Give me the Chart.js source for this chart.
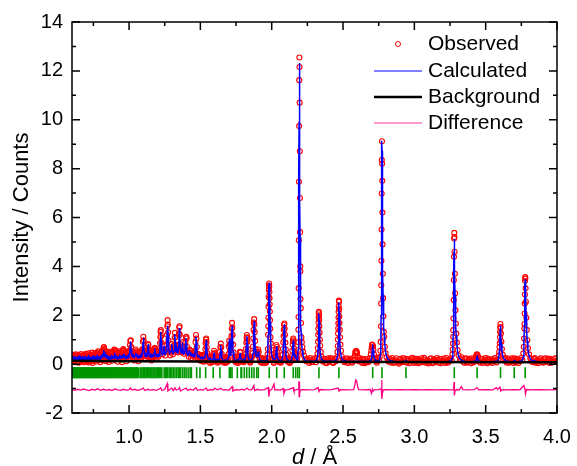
<!DOCTYPE html>
<html>
<head>
<meta charset="utf-8">
<script src="https://cdn.jsdelivr.net/npm/chart.js@4.4.1/dist/chart.umd.min.js"></script>
<style>
  body { margin: 0; background: #fff; }
  #wrap { width: 577px; height: 466px; }
</style>
</head>
<body>
<div id="wrap"><canvas id="rietveld" width="577" height="466"></canvas></div>
<script>
// axis ticks
var xTicks = [1.0, 1.5, 2.0, 2.5, 3.0, 3.5, 4.0];
var xMinorTicks = [0.75, 1.25, 1.75, 2.25, 2.75, 3.25, 3.75];
var yTicks = [-2, 0, 2, 4, 6, 8, 10, 12, 14];
var yMinorTicks = [-1, 1, 3, 5, 7, 9, 11, 13];
var seriesNames = ['Observed', 'Calculated', 'Background', 'Difference'];

// observed points [d, intensity]
var observed = [
  [0.600,0.25],[0.606,0.12],[0.612,0.31],[0.618,0.08],[0.624,0.22],[0.630,0.35],[0.636,0.14],[0.642,0.28],[0.648,0.06],[0.654,0.33],
  [0.660,0.18],[0.666,0.27],[0.672,0.10],[0.678,0.36],[0.684,0.20],[0.690,0.09],[0.696,0.30],[0.702,0.16],[0.708,0.34],[0.714,0.07],
  [0.720,0.29],[0.726,0.38],[0.732,0.13],[0.738,0.25],[0.744,0.05],[0.750,0.32],[0.756,0.19],[0.762,0.37],[0.768,0.11],[0.774,0.28],
  [0.780,0.40],[0.786,0.15],[0.792,0.33],[0.798,0.08],
  [0.804,0.30],[0.810,0.42],[0.816,0.15],[0.820,0.58],[0.824,0.70],[0.828,0.52],[0.834,0.36],[0.840,0.12],[0.846,0.40],[0.852,0.25],
  [0.858,0.09],[0.864,0.35],[0.870,0.20],[0.876,0.42],[0.882,0.14],[0.888,0.30],[0.894,0.38],[0.898,0.55],[0.902,0.58],[0.908,0.22],
  [0.914,0.36],[0.920,0.10],[0.926,0.33],[0.932,0.45],[0.938,0.18],[0.944,0.30],[0.950,0.08],[0.956,0.48],[0.960,0.62],[0.964,0.40],
  [0.970,0.22],[0.976,0.34],[0.982,0.12],[0.988,0.38],[0.994,0.45],[0.999,0.25],[1.003,0.55],[1.006,0.78],[1.009,0.95],[1.012,0.98],
  [1.015,0.70],[1.019,0.42],[1.025,0.20],[1.031,0.38],[1.037,0.15],[1.043,0.33],[1.048,0.52],[1.054,0.28],[1.060,0.40],[1.066,0.12],
  [1.072,0.35],[1.078,0.22],[1.084,0.44],[1.090,0.30],[1.094,0.62],[1.097,0.92],[1.100,1.12],[1.103,0.98],[1.106,0.66],[1.110,0.38],
  [1.116,0.20],[1.121,0.45],[1.126,0.30],[1.130,0.58],[1.133,0.82],[1.136,0.78],[1.140,0.48],[1.145,0.25],[1.151,0.40],[1.157,0.15],
  [1.163,0.36],[1.169,0.28],[1.175,0.55],[1.179,0.65],[1.183,0.60],[1.188,0.35],[1.193,0.20],[1.199,0.42],[1.205,0.30],
  [0.603,0.20],[0.609,0.38],[0.615,0.26],[0.621,0.15],[0.627,0.40],[0.633,0.24],[0.639,0.10],[0.645,0.37],[0.651,0.21],[0.657,0.29],
  [0.663,0.41],[0.669,0.16],[0.675,0.26],[0.681,0.08],[0.687,0.39],[0.693,0.23],[0.699,0.42],[0.705,0.12],[0.711,0.27],[0.717,0.44],
  [0.723,0.20],[0.729,0.10],[0.735,0.36],[0.741,0.47],[0.747,0.22],[0.753,0.14],[0.759,0.43],[0.765,0.26],[0.771,0.46],[0.777,0.20],
  [0.783,0.52],[0.789,0.28],[0.795,0.45],
  [0.801,0.18],[0.807,0.48],[0.813,0.55],[0.818,0.40],[0.822,0.68],[0.826,0.62],[0.831,0.50],[0.837,0.24],[0.843,0.52],[0.849,0.18],
  [0.855,0.45],[0.861,0.28],[0.867,0.50],[0.873,0.30],[0.879,0.48],[0.885,0.25],[0.891,0.50],[0.896,0.60],[0.905,0.45],[0.911,0.28],
  [0.917,0.48],[0.923,0.22],[0.929,0.52],[0.935,0.30],[0.941,0.45],[0.947,0.20],[0.953,0.55],[0.958,0.58],[0.962,0.55],[0.967,0.32],
  [0.973,0.48],[0.979,0.26],[0.985,0.50],[0.991,0.30],[0.997,0.52],[1.001,0.40],[1.017,0.55],[1.022,0.35],[1.028,0.50],[1.034,0.28],
  [1.040,0.48],[1.046,0.60],[1.051,0.42],[1.057,0.25],[1.063,0.45],[1.069,0.30],[1.075,0.50],[1.081,0.35],[1.087,0.55],[1.092,0.45],
  [1.108,0.52],[1.113,0.32],[1.118,0.55],[1.123,0.40],[1.128,0.45],[1.138,0.62],[1.143,0.38],[1.148,0.55],[1.154,0.28],[1.160,0.50],
  [1.166,0.22],[1.172,0.45],[1.177,0.62],[1.181,0.66],[1.186,0.48],[1.191,0.30],[1.196,0.55],[1.202,0.38],[1.207,0.50],
  [1.210,0.45],[1.214,0.62],[1.217,0.85],[1.219,1.10],[1.221,1.32],[1.223,1.39],[1.225,1.15],[1.227,0.88],[1.230,0.60],[1.235,0.40],
  [1.241,0.50],[1.245,0.75],[1.249,0.55],[1.254,0.35],[1.259,0.50],[1.263,0.80],[1.266,1.20],[1.268,1.55],[1.270,1.80],[1.272,1.62],
  [1.274,1.30],[1.276,0.98],[1.279,0.70],[1.284,0.48],[1.289,0.36],[1.294,0.58],[1.299,0.82],[1.303,0.62],[1.308,0.40],[1.313,0.52],
  [1.317,0.78],[1.320,1.08],[1.322,1.28],[1.324,1.10],[1.327,0.80],[1.331,0.62],[1.335,0.75],[1.339,0.55],[1.344,0.48],[1.347,0.80],
  [1.350,1.25],[1.352,1.50],[1.354,1.55],[1.356,1.20],[1.359,0.82],[1.363,0.55],[1.368,0.48],[1.373,0.70],[1.376,0.90],[1.380,0.62],
  [1.386,0.42],[1.391,0.55],[1.395,0.88],[1.398,1.10],[1.401,1.12],[1.404,1.05],[1.408,0.70],[1.413,0.45],[1.419,0.30],[1.424,0.60],
  [1.429,0.42],[1.435,0.25],[1.441,0.45],[1.447,0.20],[1.453,0.38],[1.459,0.30],[1.463,0.55],[1.466,0.90],[1.469,1.19],[1.472,1.05],
  [1.475,0.70],[1.479,0.42],[1.485,0.22],[1.491,0.35],[1.497,0.15],
  [1.416,0.50],[1.432,0.55],[1.444,0.35],[1.456,0.48],[1.488,0.40],[1.494,0.28],[1.500,0.32],[1.506,0.25],[1.512,0.20],[1.518,0.38],
  [1.524,0.10],[1.556,0.35],[1.562,0.18],[1.568,0.05],[1.574,0.30],[1.580,0.20],[1.586,0.14],[1.606,0.32],[1.612,0.18],[1.618,0.28],
  [1.624,0.12],[1.630,0.10],[1.652,0.30],[1.658,0.12],[1.664,0.25],[1.670,0.15],[1.676,0.28],[1.682,0.08],[1.688,0.30],[1.694,0.20],
  [1.741,0.30],[1.747,0.15],[1.753,0.12],[1.759,0.28],[1.765,0.05],[1.788,0.20],[1.794,0.30],[1.800,0.15],[1.806,0.12],[1.812,0.30],
  [1.840,0.28],[1.846,0.12],[1.852,0.10],[1.858,0.30],[1.917,0.20],[1.924,0.08],[1.931,0.25],[1.938,0.12],[1.945,0.22],[1.952,0.05],
  [1.959,0.18],[1.965,0.12],[2.009,0.20],[2.015,0.05],[2.021,0.25],[2.047,0.18],[2.054,0.08],[2.061,0.20],[2.068,0.12],[2.106,0.25],
  [2.113,0.10],[2.120,0.20],[2.127,0.05],[2.134,0.18],
  [1.503,0.15],[1.509,0.35],[1.515,0.12],[1.521,0.30],[1.527,0.20],[1.532,0.40],[1.535,0.62],[1.537,0.85],[1.539,1.00],[1.541,1.05],
  [1.543,0.90],[1.545,0.68],[1.548,0.45],[1.553,0.25],[1.559,0.10],[1.565,0.30],[1.571,0.14],[1.577,0.25],[1.583,0.08],[1.589,0.28],
  [1.593,0.42],[1.596,0.55],[1.599,0.45],[1.603,0.25],[1.609,0.12],[1.615,0.22],[1.621,0.06],[1.627,0.20],[1.633,0.30],[1.637,0.50],
  [1.640,0.70],[1.643,0.84],[1.646,0.68],[1.649,0.42],[1.655,0.20],[1.661,0.08],[1.667,0.18],[1.673,0.05],[1.679,0.16],[1.685,0.22],
  [1.691,0.10],[1.696,0.40],[1.699,0.72],[1.702,0.95],[1.705,0.80],[1.708,0.55],[1.712,0.58],[1.715,0.85],[1.718,1.15],[1.720,1.45],
  [1.722,1.69],[1.724,1.50],[1.726,1.20],[1.729,0.80],[1.733,0.48],[1.738,0.25],[1.744,0.10],[1.750,0.20],[1.756,0.06],[1.762,0.18],
  [1.768,0.12],[1.773,0.35],[1.777,0.50],[1.781,0.48],[1.785,0.28],[1.791,0.12],[1.797,0.22],[1.803,0.08],[1.809,0.25],[1.815,0.40],
  [1.819,0.62],[1.822,0.88],[1.824,1.08],[1.826,1.19],[1.828,1.10],[1.830,0.92],[1.833,0.62],[1.837,0.35],[1.843,0.18],[1.849,0.06],
  [1.855,0.20],[1.861,0.28],[1.866,0.45],[1.869,0.72],[1.871,1.05],[1.873,1.40],[1.875,1.70],[1.877,1.84],[1.879,1.62],[1.881,1.30],
  [1.884,0.95],[1.887,0.62],[1.891,0.42],[1.896,0.38],[1.901,0.50],[1.905,0.60],[1.909,0.48],[1.914,0.26],[1.920,0.10],[1.927,0.18],
  [1.934,0.05],[1.941,0.15],[1.948,0.09],[1.955,0.20],[1.962,0.07],[1.968,0.25],
  [1.971,0.40],[1.973,0.62],[1.975,1.20],[1.976,1.55],[1.977,1.90],[1.978,2.35],[1.979,2.75],[1.980,3.05],[1.981,3.22],[1.982,3.30],
  [1.983,3.18],[1.984,2.95],[1.985,2.70],[1.986,2.45],[1.987,2.15],[1.988,1.80],[1.990,1.45],[1.992,1.10],[1.994,0.85],[1.997,0.58],
  [2.001,0.40],[2.006,0.22],[2.012,0.10],[2.018,0.30],[2.023,0.18],[2.027,0.45],[2.030,0.62],[2.033,0.78],[2.036,0.70],[2.039,0.50],
  [2.044,0.28],[2.050,0.10],[2.057,0.22],[2.064,0.06],[2.071,0.18],[2.076,0.38],[2.079,0.62],[2.081,0.90],[2.083,1.15],[2.085,1.40],
  [2.087,1.60],[2.089,1.66],[2.091,1.45],[2.093,1.20],[2.096,0.88],[2.099,0.60],[2.103,0.38],[2.109,0.15],[2.116,0.25],[2.123,0.08],
  [2.130,0.20],[2.137,0.12],[2.141,0.32],[2.144,0.55],[2.147,0.80],[2.149,0.98],[2.151,1.05],[2.153,0.92],[2.156,0.65],[2.160,0.42],
  [2.164,0.38],[2.167,0.45],[2.170,0.36],[2.174,0.18],[2.179,0.22],[2.182,0.35],[2.184,0.58],[2.186,0.90],
  [2.187,1.41],[2.188,1.93],[2.189,3.10],[2.190,5.07],[2.191,7.46],[2.192,9.74],[2.193,11.62],[2.194,12.55],[2.195,12.16],[2.196,10.70],
  [2.197,8.71],[2.198,6.80],[2.199,5.40],[2.200,4.00],[2.201,3.80],[2.202,2.66],[2.204,2.29],[2.206,1.68],[2.208,1.10],[2.211,0.90],
  [2.215,0.70],[2.220,0.50],[2.227,0.35],[2.235,0.20],
  [2.242,0.12],[2.250,0.22],[2.262,0.05],[2.274,0.18],[2.286,0.10],[2.298,0.24],[2.310,0.08],[2.318,0.25],
  [2.256,0.15],[2.268,0.25],[2.280,0.08],[2.292,0.16],[2.304,0.20],[2.360,0.10],[2.372,0.20],[2.384,0.04],[2.396,0.24],[2.408,0.14],
  [2.420,0.20],[2.432,0.05],[2.444,0.22],[2.504,0.20],[2.516,0.12],[2.528,0.24],[2.540,0.10],[2.552,0.22],[2.564,0.06],[2.616,0.25],
  [2.628,0.10],[2.640,0.22],[2.652,0.04],[2.664,0.16],[2.676,0.08],[2.727,0.20],[2.737,0.06],[2.747,0.25],[2.820,0.10],
  [2.321,0.42],[2.323,0.65],[2.325,0.92],[2.326,1.20],[2.327,1.45],[2.328,1.70],[2.329,1.92],[2.330,2.08],[2.331,2.14],[2.332,2.00],
  [2.333,1.82],[2.334,1.55],[2.336,1.28],[2.338,1.00],[2.340,0.75],[2.344,0.50],[2.349,0.30],[2.356,0.15],
  [2.366,0.22],[2.378,0.06],[2.390,0.18],[2.402,0.10],[2.414,0.25],[2.426,0.07],[2.438,0.20],[2.448,0.12],[2.456,0.28],
  [2.461,0.50],[2.463,0.74],[2.464,1.01],[2.465,1.25],[2.466,1.46],[2.467,1.67],[2.468,1.91],[2.469,2.14],[2.470,2.37],[2.471,2.60],
  [2.472,2.55],[2.473,2.25],[2.474,1.95],[2.475,1.68],[2.477,1.40],[2.479,1.10],[2.482,0.80],[2.486,0.55],[2.491,0.32],[2.498,0.18],
  [2.510,0.08],[2.522,0.20],[2.534,0.05],[2.546,0.18],[2.558,0.10],[2.570,0.24],[2.578,0.15],
  [2.583,0.35],[2.586,0.48],[2.589,0.52],[2.592,0.50],[2.595,0.53],[2.598,0.45],[2.602,0.30],
  [2.610,0.12],[2.622,0.20],[2.634,0.05],[2.646,0.17],[2.658,0.09],[2.670,0.22],[2.682,0.12],[2.690,0.25],
  [2.695,0.40],[2.698,0.55],[2.701,0.68],[2.704,0.80],[2.707,0.78],[2.710,0.72],[2.713,0.58],[2.717,0.40],[2.722,0.25],
  [2.732,0.12],[2.742,0.22],[2.752,0.15],[2.758,0.30],
  [2.762,0.55],[2.764,0.91],[2.766,1.55],[2.767,2.48],[2.768,3.23],[2.769,4.23],[2.770,5.51],[2.771,6.98],[2.772,8.35],[2.773,9.12],
  [2.774,8.20],[2.775,7.50],[2.776,6.20],[2.777,4.90],[2.779,3.70],[2.781,2.70],[2.783,1.96],[2.786,1.32],[2.789,1.12],[2.793,0.71],
  [2.798,0.45],[2.805,0.28],[2.815,0.16],
  [2.826,0.22],[2.838,0.06],[2.850,0.18],[2.862,0.10],[2.874,0.24],[2.886,0.07],[2.898,0.19],[2.910,0.12],[2.922,0.25],[2.934,0.09],
  [2.942,0.22],[2.954,0.14],[2.966,0.04],[2.978,0.20],[2.990,0.11],[3.002,0.23],[3.014,0.06],[3.026,0.17],[3.038,0.10],[3.050,0.24],
  [3.062,0.08],[3.074,0.19],[3.086,0.12],[3.098,0.03],[3.110,0.21],[3.122,0.09],[3.134,0.18],[3.146,0.13],[3.158,0.25],[3.170,0.06],
  [3.182,0.20],[3.194,0.11],[3.206,0.23],[3.218,0.05],[3.230,0.17],[3.242,0.12],[3.254,0.24],[3.262,0.15],
  [2.832,0.15],[2.844,0.25],[2.856,0.05],[2.868,0.16],[2.880,0.12],[2.892,0.02],[2.904,0.22],[2.916,0.08],[2.928,0.16],[2.948,0.06],
  [2.960,0.20],[2.972,0.12],[2.984,0.26],[2.996,0.05],[3.008,0.15],[3.020,0.22],[3.032,0.04],[3.044,0.16],[3.056,0.12],[3.068,0.26],
  [3.080,0.06],[3.092,0.17],[3.104,0.10],[3.116,0.24],[3.128,0.04],[3.140,0.20],[3.152,0.08],[3.164,0.17],[3.176,0.22],[3.188,0.04],
  [3.200,0.15],[3.212,0.10],[3.224,0.25],[3.236,0.06],[3.248,0.18],
  [3.267,0.40],[3.269,0.60],[3.271,0.84],[3.272,1.12],[3.273,1.39],[3.274,1.87],[3.276,2.62],[3.277,3.44],[3.278,4.39],[3.279,5.14],
  [3.280,5.37],[3.281,5.20],[3.282,4.60],[3.284,3.70],[3.286,2.90],[3.288,2.20],[3.291,1.66],[3.294,1.25],[3.298,0.88],[3.303,0.58],
  [3.310,0.36],[3.320,0.20],
  [3.332,0.28],[3.344,0.10],[3.356,0.22],[3.368,0.06],[3.380,0.18],[3.392,0.11],[3.404,0.24],[3.416,0.08],[3.426,0.22],
  [3.326,0.15],[3.338,0.20],[3.350,0.06],[3.362,0.24],[3.374,0.10],[3.386,0.22],[3.398,0.04],[3.410,0.18],[3.420,0.12],
  [3.432,0.30],[3.436,0.38],[3.440,0.40],[3.444,0.35],[3.448,0.28],
  [3.456,0.12],[3.468,0.20],[3.480,0.05],[3.492,0.18],[3.504,0.10],[3.516,0.23],[3.528,0.08],[3.540,0.20],[3.552,0.12],[3.564,0.25],
  [3.576,0.07],[3.586,0.20],
  [3.462,0.06],[3.474,0.22],[3.486,0.12],[3.498,0.25],[3.510,0.04],[3.522,0.18],[3.534,0.14],[3.546,0.05],[3.558,0.20],[3.570,0.14],
  [3.592,0.35],[3.595,0.50],[3.597,0.70],[3.599,0.86],[3.600,1.10],[3.601,1.32],[3.602,1.50],[3.603,1.64],[3.605,1.52],[3.607,1.25],
  [3.610,0.92],[3.614,0.62],[3.620,0.38],[3.630,0.20],
  [3.642,0.12],[3.654,0.24],[3.666,0.06],[3.678,0.19],[3.690,0.11],[3.700,0.24],[3.712,0.08],[3.724,0.18],[3.736,0.12],[3.748,0.25],
  [3.757,0.18],
  [3.636,0.25],[3.648,0.06],[3.660,0.18],[3.672,0.10],[3.684,0.24],[3.696,0.05],[3.706,0.16],[3.718,0.22],[3.730,0.05],[3.742,0.18],
  [3.764,0.44],[3.767,0.71],[3.769,1.05],[3.771,1.46],[3.772,1.64],[3.773,2.07],[3.774,2.48],[3.775,2.85],[3.776,3.41],[3.777,3.56],
  [3.778,3.50],[3.780,3.10],[3.782,2.55],[3.785,1.90],[3.788,1.40],[3.792,0.98],[3.797,0.65],[3.804,0.40],[3.813,0.24],
  [3.826,0.10],[3.838,0.22],[3.850,0.06],[3.862,0.18],[3.874,0.11],[3.886,0.24],[3.898,0.08],[3.910,0.20],[3.922,0.12],[3.934,0.23],
  [3.946,0.05],[3.958,0.17],[3.970,0.10],[3.982,0.21],[3.994,0.09],
  [3.820,0.22],[3.832,0.08],[3.844,0.25],[3.856,0.12],[3.868,0.04],[3.880,0.20],[3.892,0.14],[3.904,0.06],[3.916,0.24],[3.928,0.10],
  [3.940,0.17],[3.952,0.22],[3.964,0.06],[3.976,0.15],[3.988,0.24],[4.000,0.12]
];

// calculated profile [d, intensity]
var calculated = [
  [0.600,0.22],[0.604,0.30],[0.608,0.18],[0.612,0.27],[0.617,0.17],[0.621,0.31],[0.626,0.19],[0.630,0.26],[0.635,0.16],[0.640,0.29],
  [0.645,0.20],[0.650,0.33],[0.655,0.18],[0.660,0.28],[0.666,0.17],[0.671,0.30],[0.676,0.19],[0.682,0.25],[0.688,0.16],[0.693,0.32],
  [0.699,0.18],[0.705,0.28],[0.711,0.20],[0.717,0.35],[0.723,0.19],[0.729,0.27],[0.735,0.17],[0.741,0.30],[0.747,0.21],[0.753,0.34],
  [0.759,0.20],[0.765,0.29],[0.771,0.18],[0.777,0.36],[0.783,0.22],[0.789,0.30],[0.795,0.19],
  [0.801,0.33],[0.807,0.24],[0.813,0.40],[0.818,0.30],[0.822,0.55],[0.826,0.32],[0.831,0.48],[0.836,0.28],[0.842,0.38],[0.848,0.22],
  [0.854,0.33],[0.860,0.20],[0.866,0.30],[0.872,0.21],[0.878,0.36],[0.884,0.23],[0.890,0.31],[0.896,0.24],[0.900,0.45],[0.905,0.26],
  [0.911,0.34],[0.917,0.20],[0.923,0.30],[0.929,0.22],[0.935,0.37],[0.941,0.24],[0.947,0.33],[0.953,0.25],[0.959,0.40],[0.964,0.27],
  [0.970,0.35],[0.976,0.22],[0.982,0.32],[0.988,0.24],[0.994,0.38],[0.999,0.26],[1.004,0.45],[1.008,0.75],[1.011,0.91],[1.014,0.60],
  [1.018,0.35],[1.024,0.30],[1.030,0.40],[1.036,0.26],[1.042,0.35],[1.048,0.45],[1.053,0.30],[1.059,0.38],[1.065,0.25],[1.071,0.34],
  [1.077,0.28],[1.083,0.40],[1.089,0.30],[1.094,0.55],[1.098,0.90],[1.101,1.05],[1.104,0.70],[1.108,0.40],[1.113,0.32],[1.119,0.45],
  [1.125,0.30],[1.130,0.50],[1.134,0.80],[1.137,0.62],[1.141,0.35],[1.147,0.30],[1.153,0.42],[1.159,0.28],[1.165,0.38],[1.171,0.30],
  [1.176,0.48],[1.180,0.62],[1.184,0.45],[1.189,0.32],[1.195,0.40],[1.201,0.30],[1.207,0.42],
  [1.212,0.32],[1.216,0.55],[1.219,1.00],[1.222,1.30],[1.225,0.95],[1.229,0.50],[1.234,0.36],[1.240,0.45],[1.245,0.72],[1.249,0.45],
  [1.255,0.38],[1.261,0.50],[1.265,0.95],[1.268,1.40],[1.271,1.55],[1.274,1.15],[1.278,0.60],[1.284,0.42],[1.290,0.50],[1.296,0.55],
  [1.300,0.80],[1.304,0.50],[1.310,0.42],[1.316,0.55],[1.319,0.95],[1.322,1.20],[1.325,0.85],[1.329,0.50],[1.334,0.70],[1.338,0.48],
  [1.343,0.45],[1.347,0.70],[1.350,1.20],[1.353,1.45],[1.356,1.00],[1.360,0.55],[1.366,0.45],[1.371,0.55],[1.375,0.85],[1.379,0.50],
  [1.385,0.40],[1.391,0.50],[1.395,0.80],[1.398,1.05],[1.401,0.80],[1.405,0.45],[1.412,0.35],[1.419,0.48],[1.424,0.55],[1.430,0.36],
  [1.437,0.45],[1.443,0.32],[1.450,0.40],[1.456,0.30],[1.462,0.42],[1.466,0.80],[1.469,1.10],[1.472,0.85],[1.476,0.45],[1.482,0.30],
  [1.489,0.36],[1.495,0.28],
  [1.503,0.22],[1.510,0.30],[1.517,0.20],[1.524,0.28],[1.531,0.25],[1.535,0.42],[1.538,0.75],[1.541,0.95],[1.544,0.70],[1.548,0.38],
  [1.554,0.22],[1.561,0.18],[1.568,0.26],[1.575,0.15],[1.582,0.20],[1.589,0.18],[1.593,0.32],[1.596,0.45],[1.599,0.30],[1.604,0.18],
  [1.612,0.14],[1.620,0.20],[1.628,0.15],[1.635,0.22],[1.639,0.45],[1.643,0.75],[1.646,0.52],[1.650,0.25],[1.658,0.16],[1.666,0.13],
  [1.674,0.18],[1.682,0.14],[1.690,0.17],[1.697,0.30],[1.700,0.70],[1.703,1.00],[1.706,0.60],[1.710,0.35],[1.714,0.45],[1.718,1.00],
  [1.722,1.55],[1.725,1.10],[1.729,0.50],[1.735,0.25],[1.743,0.16],[1.751,0.13],[1.759,0.18],[1.767,0.15],[1.774,0.24],[1.778,0.42],
  [1.782,0.30],[1.788,0.18],[1.796,0.14],[1.804,0.20],[1.812,0.16],[1.818,0.30],[1.822,0.75],[1.826,1.12],[1.829,0.80],[1.833,0.38],
  [1.840,0.20],[1.848,0.15],[1.856,0.18],[1.864,0.22],[1.869,0.45],[1.873,1.20],[1.877,1.73],[1.880,1.25],[1.884,0.60],[1.889,0.35],
  [1.895,0.30],[1.902,0.38],[1.906,0.50],[1.910,0.34],[1.916,0.18],[1.926,0.13],[1.936,0.12],[1.946,0.14],[1.956,0.11],[1.966,0.15],
  [1.972,0.45],[1.975,1.20],[1.978,2.40],[1.981,3.20],[1.983,3.30],[1.986,2.70],[1.989,1.70],[1.993,0.90],[1.998,0.45],[2.005,0.25],
  [2.015,0.18],[2.024,0.22],[2.029,0.40],[2.034,0.70],[2.037,0.48],[2.042,0.25],[2.052,0.15],[2.062,0.13],[2.072,0.16],[2.078,0.35],
  [2.082,0.80],[2.085,1.30],[2.088,1.60],[2.091,1.30],[2.095,0.70],[2.100,0.35],[2.108,0.20],[2.118,0.14],[2.128,0.13],[2.138,0.16],
  [2.143,0.35],[2.147,0.70],[2.151,0.95],[2.154,0.72],[2.158,0.38],[2.163,0.28],[2.167,0.35],[2.171,0.22],[2.178,0.16],[2.182,0.30],
  [2.185,0.60],[2.187,1.00],[2.188,1.90],[2.189,3.30],[2.190,5.20],[2.191,7.60],[2.192,9.90],[2.193,11.80],[2.194,12.30],[2.195,12.00],
  [2.196,10.60],[2.197,8.60],[2.198,6.80],[2.199,5.20],[2.200,3.90],[2.201,2.90],[2.203,2.20],[2.205,1.60],[2.207,1.25],[2.210,0.85],
  [2.214,0.55],[2.219,0.35],[2.226,0.22],[2.235,0.16],
  [2.245,0.13],[2.260,0.12],[2.280,0.12],[2.300,0.13],[2.315,0.16],[2.322,0.30],[2.326,0.70],[2.328,1.20],[2.330,1.80],[2.331,2.05],
  [2.333,1.70],[2.335,1.20],[2.338,0.70],[2.342,0.40],[2.348,0.22],[2.357,0.15],[2.380,0.12],[2.410,0.12],[2.440,0.13],[2.455,0.18],
  [2.462,0.35],[2.466,0.90],[2.468,1.60],[2.470,2.30],[2.471,2.50],[2.473,2.10],[2.475,1.50],[2.478,0.90],[2.482,0.50],[2.488,0.28],
  [2.497,0.17],[2.520,0.12],[2.560,0.11],[2.600,0.11],[2.640,0.11],[2.680,0.12],[2.695,0.15],[2.702,0.30],[2.706,0.65],[2.708,0.78],
  [2.711,0.55],[2.716,0.28],[2.724,0.17],[2.740,0.13],[2.755,0.16],
  [2.763,0.40],[2.765,0.90],[2.767,2.00],[2.768,3.20],[2.769,4.50],[2.770,6.00],[2.771,7.60],[2.772,8.80],[2.773,9.12],[2.774,8.70],
  [2.775,7.60],[2.776,6.30],[2.777,5.00],[2.779,3.80],[2.781,2.80],[2.783,2.10],[2.786,1.55],[2.789,1.15],[2.793,0.80],[2.798,0.52],
  [2.805,0.32],[2.815,0.20],[2.830,0.14],
  [2.860,0.11],[2.900,0.10],[2.935,0.11],[2.941,0.16],[2.947,0.11],[2.980,0.10],[3.030,0.10],[3.080,0.10],[3.130,0.10],[3.180,0.10],
  [3.230,0.10],[3.255,0.13],
  [3.266,0.25],[3.270,0.60],[3.272,1.20],[3.274,2.10],[3.276,3.20],[3.277,4.00],[3.278,4.60],[3.279,5.00],[3.280,5.10],[3.281,4.90],
  [3.282,4.40],[3.284,3.60],[3.286,2.80],[3.288,2.10],[3.291,1.55],[3.294,1.15],[3.298,0.80],[3.303,0.52],[3.310,0.32],[3.320,0.20],
  [3.335,0.14],
  [3.360,0.11],[3.400,0.10],[3.425,0.12],[3.434,0.18],[3.438,0.28],[3.440,0.33],[3.443,0.25],[3.448,0.16],[3.460,0.11],[3.500,0.10],
  [3.550,0.10],[3.585,0.13],
  [3.592,0.25],[3.596,0.55],[3.599,1.00],[3.601,1.40],[3.603,1.55],[3.605,1.45],[3.607,1.15],[3.610,0.80],[3.614,0.52],[3.620,0.32],
  [3.630,0.19],[3.645,0.13],
  [3.670,0.10],[3.695,0.11],[3.700,0.15],[3.705,0.11],[3.730,0.10],[3.755,0.14],
  [3.764,0.30],[3.768,0.75],[3.771,1.60],[3.773,2.50],[3.775,3.20],[3.777,3.44],[3.779,3.20],[3.781,2.60],[3.784,1.95],[3.787,1.40],
  [3.791,0.95],[3.796,0.60],[3.803,0.36],[3.812,0.22],[3.825,0.15],
  [3.860,0.11],[3.900,0.10],[3.950,0.10],[4.000,0.10]
];

// refined background [d, intensity]
var background = [[0.6,0.14],[1.0,0.12],[1.5,0.11],[2.0,0.10],[3.0,0.09],[4.0,0.08]];

// difference curve, offset below zero [d, intensity]
var difference = [
  [0.600,-1.04],[0.620,-1.07],[0.640,-1.03],[0.660,-1.06],[0.680,-1.02],[0.700,-1.05],[0.720,-1.08],[0.740,-1.03],[0.760,-1.06],[0.780,-1.01],
  [0.800,-1.07],[0.820,-1.03],[0.840,-1.06],[0.860,-1.04],[0.880,-1.08],[0.900,-1.02],[0.920,-1.05],[0.940,-1.07],[0.960,-1.03],[0.980,-1.06],
  [1.000,-1.04],[1.011,-0.98],[1.020,-1.06],[1.040,-1.03],[1.060,-1.07],[1.080,-1.04],[1.100,-0.98],[1.110,-1.08],[1.130,-1.03],[1.150,-1.06],
  [1.170,-1.04],[1.190,-1.07],[1.210,-1.03],[1.222,-0.97],[1.230,-1.08],[1.250,-1.04],[1.268,-0.80],[1.272,-1.10],[1.285,-1.04],[1.300,-0.98],
  [1.310,-1.08],[1.322,-0.97],[1.330,-1.06],[1.345,-1.03],[1.354,-0.96],[1.360,-1.10],[1.380,-1.04],[1.400,-0.98],[1.410,-1.07],[1.430,-1.03],
  [1.450,-1.06],[1.469,-0.97],[1.480,-1.07],[1.500,-1.04],[1.520,-1.06],[1.541,-0.98],[1.550,-1.08],[1.570,-1.04],[1.590,-1.06],[1.600,-0.98],
  [1.620,-1.05],[1.643,-0.99],[1.660,-1.06],[1.680,-1.04],[1.700,-1.07],[1.722,-0.92],[1.728,-1.10],[1.750,-1.04],[1.770,-1.06],[1.790,-1.03],
  [1.810,-1.06],[1.826,-0.98],[1.840,-1.05],[1.860,-1.04],[1.875,-0.88],[1.880,-1.08],[1.900,-1.03],[1.920,-1.06],[1.950,-1.04],[1.976,-0.96],
  [1.980,-1.33],[1.985,-1.08],[2.000,-1.04],[2.016,-0.82],[2.022,-1.06],[2.040,-1.04],[2.060,-1.06],[2.080,-1.00],[2.086,-1.20],[2.095,-1.05],
  [2.120,-1.04],[2.150,-0.96],[2.156,-1.10],[2.170,-1.05],[2.185,-1.02],[2.190,-0.70],[2.192,-1.33],[2.194,-0.72],[2.196,-1.25],[2.200,-1.05],
  [2.220,-1.04],[2.260,-1.05],[2.300,-1.04],[2.326,-0.96],[2.332,-1.12],[2.340,-1.04],[2.380,-1.05],[2.420,-1.04],[2.466,-0.98],[2.472,-1.10],
  [2.480,-1.04],[2.530,-1.05],[2.575,-1.04],[2.583,-0.85],[2.589,-0.65],[2.595,-0.68],[2.602,-0.90],[2.610,-1.04],[2.650,-1.05],[2.690,-1.04],
  [2.700,-1.20],[2.706,-1.02],[2.712,-1.10],[2.720,-1.05],[2.750,-1.04],[2.768,-1.00],[2.771,-0.65],[2.773,-1.42],[2.776,-1.20],[2.782,-1.05],
  [2.800,-1.04],[2.850,-1.05],[2.900,-1.04],[2.950,-1.05],[3.000,-1.04],[3.050,-1.05],[3.100,-1.04],[3.150,-1.05],[3.200,-1.04],[3.250,-1.05],
  [3.275,-1.04],[3.278,-0.73],[3.281,-1.28],[3.285,-1.10],[3.295,-1.04],[3.315,-1.05],[3.330,-0.92],[3.340,-1.04],[3.380,-1.05],[3.420,-1.04],
  [3.440,-0.96],[3.450,-1.05],[3.500,-1.04],[3.550,-1.05],[3.575,-0.96],[3.585,-1.04],[3.600,-0.94],[3.606,-1.10],[3.615,-1.04],[3.650,-1.05],
  [3.700,-1.04],[3.740,-1.05],[3.768,-0.88],[3.775,-1.02],[3.779,-1.22],[3.786,-1.04],[3.820,-1.05],[3.880,-1.04],[3.940,-1.05],[4.000,-1.04]
];

// reflection positions (d, Å)
var reflections = [
  0.601,0.605,0.610,0.614,0.619,0.625,0.629,0.634,0.638,0.643,0.647,0.652,0.657,0.661,0.666,0.671,0.675,0.680,0.685,0.689,
  0.694,0.699,0.704,0.708,0.713,0.717,0.722,0.727,0.732,0.737,0.741,0.746,0.751,0.756,0.761,0.766,0.771,0.775,0.781,0.786,
  0.790,0.795,0.801,0.806,0.811,0.815,0.821,0.826,0.830,0.836,0.841,0.847,0.852,0.856,0.862,0.867,0.873,0.878,0.883,0.889,
  0.894,0.899,0.905,0.910,0.915,0.921,0.926,0.932,0.937,0.943,0.948,0.954,0.959,0.965,0.971,0.976,0.982,0.988,0.993,0.999,
  1.005,1.011,1.016,1.022,1.028,1.034,1.040,1.046,1.052,1.058,1.064,
  1.077,1.084,1.091,1.100,1.107,1.112,1.121,1.128,1.135,1.146,1.152,1.160,1.168,1.175,1.181,1.190,1.198,1.206,1.214,1.222,
  1.230,1.246,1.255,1.262,1.270,1.281,1.290,1.300,1.311,1.322,1.334,1.345,1.353,1.362,1.376,1.388,1.400,1.414,1.428,1.437,
  1.474,1.497,1.537,1.590,1.637,1.703,1.712,1.722,1.759,1.785,1.789,1.808,1.825,1.843,1.860,1.876,1.895,1.906,1.983,2.035,
  2.088,2.151,2.168,2.182,2.194,2.331,2.471,2.708,2.773,2.941,3.280,3.440,3.604,3.700,3.777
];

function toXY(pairs) {
  return pairs.map(function (p) { return { x: p[0], y: p[1] }; });
}

var FONT = '"Liberation Sans", Arial, sans-serif';

// frame with inward ticks, legend inside the plot, x-axis title
var framePlugin = {
  id: 'frame',
  afterDraw: function (chart) {
    var ctx = chart.ctx;
    var a = chart.chartArea;
    var xs = chart.scales.x, ys = chart.scales.y;
    ctx.save();
    ctx.strokeStyle = '#000';
    ctx.lineWidth = 1.5;
    ctx.strokeRect(a.left, a.top, a.right - a.left, a.bottom - a.top);

    ctx.beginPath();
    function xTick(v, len) {
      var p = xs.getPixelForValue(v);
      ctx.moveTo(p, a.bottom); ctx.lineTo(p, a.bottom - len);
      ctx.moveTo(p, a.top); ctx.lineTo(p, a.top + len);
    }
    function yTick(v, len) {
      var p = ys.getPixelForValue(v);
      ctx.moveTo(a.left, p); ctx.lineTo(a.left + len, p);
      ctx.moveTo(a.right, p); ctx.lineTo(a.right - len, p);
    }
    xTicks.forEach(function (v) { xTick(v, 8); });
    xMinorTicks.forEach(function (v) { xTick(v, 4); });
    yTicks.forEach(function (v) { yTick(v, 8); });
    yMinorTicks.forEach(function (v) { yTick(v, 4); });
    ctx.stroke();

    // legend
    var lx = a.right - 183, tx = a.right - 129;
    var rows = [a.top + 22, a.top + 49, a.top + 75, a.top + 101];
    ctx.font = '21px ' + FONT;
    ctx.fillStyle = '#000';
    ctx.textBaseline = 'middle';
    ctx.textAlign = 'left';
    seriesNames.forEach(function (name, i) {
      ctx.fillText(name, tx, rows[i]);
    });
    ctx.beginPath();
    ctx.strokeStyle = '#ff0000';
    ctx.lineWidth = 1;
    ctx.arc(lx + 24, rows[0], 2.5, 0, Math.PI * 2);
    ctx.stroke();
    var lineCols = [['#0000ff', 1.2], ['#000000', 2.5], ['#ff3399', 1.2]];
    lineCols.forEach(function (c, i) {
      ctx.beginPath();
      ctx.strokeStyle = c[0];
      ctx.lineWidth = c[1];
      ctx.moveTo(lx, rows[i + 1]);
      ctx.lineTo(lx + 48, rows[i + 1]);
      ctx.stroke();
    });

    // x title: italic d, upright rest
    var cx = (a.left + a.right) / 2;
    var ty = 458;
    ctx.fillStyle = '#000';
    ctx.textBaseline = 'middle';
    ctx.font = 'italic 22px ' + FONT;
    var w1 = ctx.measureText('d').width;
    ctx.font = '22px ' + FONT;
    var w2 = ctx.measureText(' / Å').width;
    var sx = cx - (w1 + w2) / 2;
    ctx.font = 'italic 22px ' + FONT;
    ctx.fillText('d', sx, ty);
    ctx.font = '22px ' + FONT;
    ctx.fillText(' / Å', sx + w1, ty);
    ctx.restore();
  }
};

var ctx = document.getElementById('rietveld').getContext('2d');
var chart = new Chart(ctx, {
  type: 'scatter',
  data: {
    datasets: [{
      label: seriesNames[2],
      data: toXY(background),
      showLine: true,
      borderColor: '#000000',
      borderWidth: 2.5,
      pointRadius: 0,
      order: 0
    }, {
      label: seriesNames[1],
      data: toXY(calculated),
      showLine: true,
      borderColor: '#0000ff',
      borderWidth: 1.5,
      borderJoinStyle: 'round',
      pointRadius: 0,
      order: 1
    }, {
      label: seriesNames[0],
      data: toXY(observed),
      showLine: false,
      borderColor: '#ff0000',
      backgroundColor: 'rgba(0,0,0,0)',
      pointBorderWidth: 1.1,
      pointRadius: 2.5,
      pointStyle: 'circle',
      order: 2
    }, {
      label: seriesNames[3],
      data: toXY(difference),
      showLine: true,
      borderColor: '#ff0080',
      borderWidth: 1.3,
      pointRadius: 0,
      order: 3
    }, {
      label: 'Reflections',
      data: reflections.map(function (d) { return { x: d, y: -0.35 }; }),
      showLine: false,
      borderColor: 'rgb(0,150,0)',
      pointBorderWidth: 1.6,
      pointStyle: 'line',
      rotation: 90,
      pointRadius: 5.5,
      order: 4
    }]
  },
  options: {
    responsive: false,
    devicePixelRatio: 1,
    animation: false,
    events: [],
    layout: { padding: { left: 0, top: 22, right: 20, bottom: 0 } },
    plugins: {
      legend: { display: false },
      tooltip: { enabled: false }
    },
    scales: {
      x: {
        type: 'linear',
        min: 0.6,
        max: 4.0,
        grid: { display: false, drawTicks: false },
        border: { display: false },
        afterBuildTicks: function (s) { s.ticks = xTicks.map(function (v) { return { value: v }; }); },
        afterFit: function (s) { s.height = 53; s.paddingLeft = 0; s.paddingRight = 0; },
        ticks: {
          color: '#000',
          font: { family: FONT, size: 20 },
          padding: 12,
          maxRotation: 0,
          callback: function (v) { return Number(v).toFixed(1); }
        }
      },
      y: {
        type: 'linear',
        min: -2,
        max: 14,
        grid: { display: false, drawTicks: false },
        border: { display: false },
        afterBuildTicks: function (s) { s.ticks = yTicks.map(function (v) { return { value: v }; }); },
        afterFit: function (s) { s.width = 72; },
        title: {
          display: true,
          text: 'Intensity / Counts',
          color: '#000',
          font: { family: FONT, size: 22 },
          padding: { top: 9, bottom: 0 }
        },
        ticks: {
          color: '#000',
          font: { family: FONT, size: 20 },
          padding: 9
        }
      }
    }
  },
  plugins: [framePlugin]
});
</script>
</body>
</html>
